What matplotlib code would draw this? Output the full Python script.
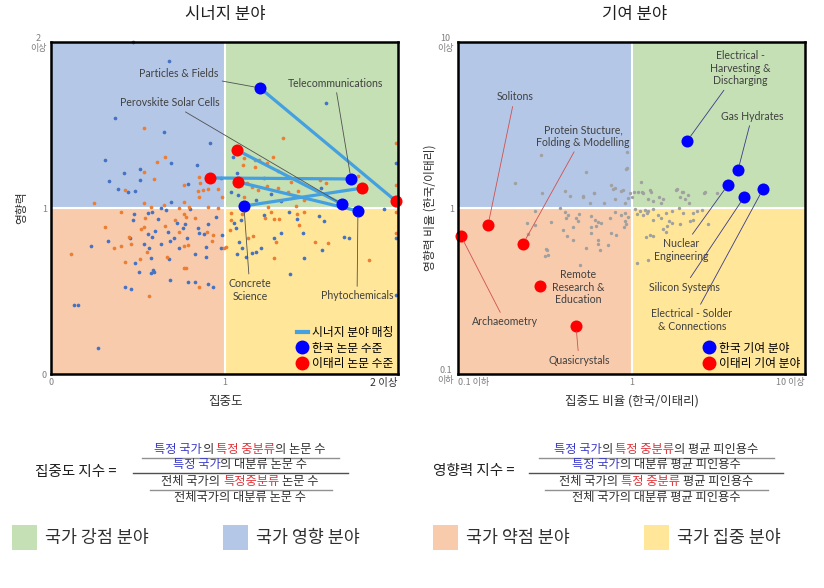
import matplotlib
matplotlib.use('Agg')
import matplotlib.pyplot as plt
from matplotlib.lines import Line2D
from matplotlib.patches import Rectangle
from matplotlib.ticker import NullLocator

plt.rcParams['font.family'] = ['Noto Sans CJK KR', 'DejaVu Sans']

# ------------------------------------------------------------------
# DATA : left panel (시너지 분야) -- concentration (x) vs impact (y)
# ------------------------------------------------------------------
kr_dot_x = [0.473, 0.68, 1.585, 0.371, 0.653, 0.918, 0.311, 0.692, 0.841, 0.423, 0.511, 0.336, 0.515,
            0.384, 0.442, 0.486, 0.788, 0.692, 0.98, 1.048, 1.073, 1.23, 1.035, 1.077, 1.269, 1.557,
            1.323, 1.183, 1.99, 0.231, 0.131, 0.158, 0.269, 0.327, 0.48, 0.471, 0.484, 0.509, 0.427,
            0.461, 0.576, 0.596, 0.586, 0.576, 0.567, 0.534, 0.457, 0.557, 0.58, 0.599, 0.557, 0.58,
            0.615, 0.634, 0.682, 0.686, 0.672, 0.726, 0.707, 0.688, 0.772, 0.759, 0.803, 0.845, 0.855,
            0.74, 0.784, 0.83, 0.893, 0.895, 0.788, 0.832, 0.907, 0.932, 0.907, 0.884, 0.984, 0.953,
            0.98, 0.634, 0.663, 1.054, 1.067, 1.096, 1.086, 1.10, 1.073, 1.125, 1.158, 1.183, 1.211,
            1.227, 1.288, 1.327, 1.38, 1.369, 1.419, 1.451, 1.457, 1.542, 1.573, 1.561, 1.688, 1.715,
            1.922, 1.99, 1.99]
kr_dot_y = [2.0, 1.886, 1.633, 1.54, 1.46, 1.394, 1.287, 1.269, 1.259, 1.213, 1.233, 1.163, 1.169,
            1.112, 1.098, 1.104, 1.144, 1.038, 1.18, 1.31, 1.213, 1.18, 1.098, 1.078, 1.084, 1.118,
            1.044, 1.048, 1.27, 0.773, 0.416, 0.416, 0.159, 0.801, 0.962, 0.928, 0.667, 0.612, 0.526,
            0.512, 0.606, 0.616, 0.626, 0.697, 0.761, 0.781, 0.821, 0.841, 0.825, 0.861, 0.968, 0.974,
            0.934, 0.781, 0.693, 0.566, 0.853, 0.908, 0.817, 0.801, 0.902, 0.878, 0.994, 0.878, 0.847,
            0.761, 0.819, 0.721, 0.767, 0.707, 0.556, 0.556, 0.542, 0.526, 0.902, 0.841, 0.837, 0.948,
            0.757, 1.0, 0.988, 0.908, 0.878, 0.928, 0.793, 0.761, 0.721, 0.707, 0.727, 0.737, 0.761,
            0.958, 0.821, 0.847, 0.6, 0.974, 0.934, 0.847, 0.697, 0.954, 0.922, 0.747, 0.827, 0.817,
            0.994, 0.817, 0.476]

it_dot_x = [0.538, 0.657, 0.611, 0.534, 0.596, 0.427, 0.855, 0.859, 0.768, 0.845, 0.874, 0.903, 0.961,
            0.851, 0.984, 0.768, 0.246, 0.534, 0.576, 0.653, 0.797, 0.903, 0.74, 1.336, 1.111, 1.177,
            1.20, 1.279, 1.246, 1.106, 1.173, 1.307, 1.384, 1.131, 1.158, 1.246, 1.192, 1.307, 1.115,
            1.365, 1.423, 1.548, 1.586, 1.461, 1.413, 1.25, 1.99, 1.99, 1.768, 0.115, 0.313, 0.365,
            0.403, 0.403, 0.427, 0.567, 0.515, 0.553, 0.461, 0.451, 0.519, 0.534, 0.542, 0.657, 0.669,
            0.715, 0.74, 0.765, 0.778, 0.83, 0.792, 0.768, 0.765, 0.778, 0.851, 0.899, 0.936, 0.961,
            0.926, 0.995, 1.038, 1.035, 1.029, 1.10, 1.01, 1.138, 1.163, 1.234, 1.269, 1.284, 1.317,
            1.298, 1.284, 1.419, 1.427, 1.461, 1.523, 1.599, 1.83, 1.99, 1.99]
it_dot_y = [1.48, 1.305, 1.279, 1.219, 1.172, 1.108, 1.184, 1.153, 1.139, 1.104, 1.108, 1.112, 1.112,
            1.065, 1.068, 1.038, 1.028, 1.028, 1.004, 1.018, 1.004, 1.008, 1.0, 1.42, 1.30, 1.29,
            1.29, 1.31, 1.273, 1.259, 1.249, 1.225, 1.159, 1.153, 1.124, 1.132, 1.108, 1.118, 1.068,
            1.098, 1.104, 1.169, 1.148, 1.048, 1.012, 1.008, 1.39, 1.14, 1.19, 0.721, 0.887, 0.757,
            0.773, 0.974, 0.673, 0.472, 0.693, 0.733, 0.781, 0.827, 0.873, 0.887, 0.942, 0.893, 0.707,
            0.928, 0.857, 0.962, 0.948, 0.938, 0.777, 0.773, 0.641, 0.637, 0.526, 0.857, 0.837, 1.002,
            0.801, 0.761, 0.968, 0.928, 0.868, 0.962, 0.767, 0.817, 0.833, 0.938, 0.978, 0.934, 0.934,
            0.797, 0.701, 0.962, 0.898, 0.974, 0.793, 0.789, 0.687, 0.974, 0.847]

# synergy pairs (Korea field  <->  matched Italy field)
syn_names = ['Particles & Fields', 'Telecommunications', 'Perovskite Solar Cells',
             'Phytochemicals', 'Concrete\nScience']
syn_kr_x = [1.205, 1.729, 1.677, 1.769, 1.112]
syn_kr_y = [1.723, 1.175, 1.024, 0.982, 1.012]
syn_it_x = [1.99, 0.916, 1.072, 1.078, 1.793]
syn_it_y = [1.04, 1.181, 1.349, 1.157, 1.120]

# ------------------------------------------------------------------
# DATA : right panel (기여 분야) -- ratio Korea/Italy (log axes)
# ------------------------------------------------------------------
gray_x = [0.299, 0.942, 0.547, 0.214, 0.942, 1.135, 0.762, 0.807, 0.305, 0.412, 0.605, 1.033, 1.089,
          1.148, 1.294, 1.828, 1.954, 2.655, 0.525, 0.871, 0.441, 0.525, 0.608, 0.782, 0.893, 0.933,
          0.977, 0.955, 1.0, 0.912, 0.574, 0.695, 0.8, 0.385, 0.279, 0.412, 0.431, 0.421, 0.50, 0.481,
          0.492, 0.345, 0.249, 0.277, 0.586, 0.614, 0.641, 0.664, 0.627, 0.586, 0.748, 0.8, 0.873,
          0.914, 0.955, 0.914, 0.906, 0.933, 0.46, 0.403, 0.253, 0.427, 0.46, 0.586, 0.641, 0.641,
          0.656, 0.733, 0.766, 0.818, 0.545, 0.323, 0.33, 0.318, 0.502, 1.159, 1.25, 1.324, 1.445,
          1.514, 1.472, 1.279, 1.807, 1.905, 1.991, 2.128, 2.032, 2.153, 2.618, 3.097, 1.047, 1.119,
          1.197, 1.25, 1.337, 1.072, 1.159, 1.225, 1.429, 1.472, 1.581, 1.706, 1.888, 1.991, 2.27,
          2.377, 2.535, 1.652, 1.706, 1.596, 1.905, 1.528, 1.581, 1.337, 2.173, 2.27, 2.773, 1.279,
          1.337, 1.213, 1.072, 1.25, 0.326]
gray_y = [2.084, 2.183, 1.656, 1.419, 1.742, 1.439, 1.377, 1.315, 1.236, 1.27, 1.236, 1.253, 1.253,
          1.253, 1.253, 1.3, 1.253, 1.253, 1.169, 1.27, 1.186, 1.186, 1.236, 1.294, 1.282, 1.71,
          1.225, 1.143, 1.169, 1.067, 1.067, 1.067, 1.127, 0.995, 0.959, 0.951, 0.908, 0.867, 0.92,
          0.867, 0.839, 0.828, 0.817, 0.794, 0.895, 0.847, 0.828, 0.817, 0.78, 0.766, 0.867, 0.951,
          0.908, 0.929, 0.887, 0.839, 0.766, 0.802, 0.766, 0.738, 0.698, 0.679, 0.641, 0.705, 0.641,
          0.607, 0.558, 0.598, 0.705, 0.689, 0.571, 0.564, 0.521, 0.514, 0.454, 1.225, 1.127, 1.107,
          1.169, 1.127, 1.076, 1.282, 1.282, 1.169, 1.253, 1.197, 1.127, 1.076, 1.236, 1.236, 0.982,
          0.959, 0.973, 0.959, 0.982, 0.916, 0.904, 0.929, 0.904, 0.875, 0.938, 0.959, 1.005, 0.938,
          0.938, 0.959, 0.973, 0.839, 0.809, 0.78, 0.802, 0.745, 0.721, 0.847, 0.839, 0.847, 0.802,
          0.687, 0.678, 0.665, 0.465, 0.486, 0.558]

con_kr_names = ['Electrical -\nHarvesting &\nDischarging', 'Gas Hydrates', 'Nuclear\nEngineering',
                'Silicon Systems', 'Electrical - Solder\n& Connections']
con_kr_x = [2.09, 4.11, 3.6, 4.45, 5.73]
con_kr_y = [2.53, 1.69, 1.38, 1.16, 1.30]
con_it_names = ['Solitons', 'Protein Stucture,\nFolding & Modelling', 'Archaeometry',
                'Remote\nResearch &\nEducation', 'Quasicrystals']
con_it_x = [0.149, 0.237, 0.104, 0.297, 0.479]
con_it_y = [0.79, 0.607, 0.678, 0.339, 0.194]

left_xticks = [0, 1, 2]
left_xticklabels = ['0', '1', '2 이상']
left_yticklabels = ['0', '1', '2\n이상']
right_ticks = [0.1, 1, 10]
right_xticklabels = ['0.1 이하', '1', '10 이상']
right_yticklabels = ['0.1\n이하', '1', '10\n이상']

# ------------------------------------------------------------------
W, H = 824, 588
fig = plt.figure(figsize=(W / 100, H / 100), dpi=100)
fig.patch.set_facecolor('white')


def fx(x):
    return x / W


def fy(y):
    return 1 - y / H


C_GREEN, C_BLUE, C_PEACH, C_YELLOW = '#c5e0b4', '#b4c7e7', '#f8cbad', '#ffe699'
EN = ['Lato', 'DejaVu Sans']
ANN_FS = 7.6

axL = fig.add_axes([fx(51), fy(374), (398 - 51) / W, (374 - 42) / H])
axR = fig.add_axes([fx(458), fy(374), (805 - 458) / W, (374 - 42) / H])
axR.set_xscale('log')
axR.set_yscale('log')


def quadrants(ax, lo, mid, hi):
    ax.add_patch(Rectangle((lo, lo), mid - lo, mid - lo, color=C_PEACH, zorder=0, lw=0))
    ax.add_patch(Rectangle((mid, lo), hi - mid, mid - lo, color=C_YELLOW, zorder=0, lw=0))
    ax.add_patch(Rectangle((lo, mid), mid - lo, hi - mid, color=C_BLUE, zorder=0, lw=0))
    ax.add_patch(Rectangle((mid, mid), hi - mid, hi - mid, color=C_GREEN, zorder=0, lw=0))
    ax.axvline(mid, color='white', lw=1.5, zorder=1)
    ax.axhline(mid, color='white', lw=1.5, zorder=1)
    ax.set_xlim(lo, hi)
    ax.set_ylim(lo, hi)
    for s in ax.spines.values():
        s.set_linewidth(1.8)
        s.set_color('black')
        s.set_zorder(10)
    ax.tick_params(length=0, labelsize=6.5, labelcolor='#7f7f7f', pad=3)


quadrants(axL, 0, 1, 2)
quadrants(axR, 0.1, 1, 10)

# ---- left panel ----
axL.set_xticks(left_xticks)
axL.set_xticklabels(left_xticklabels)
axL.set_yticks(left_xticks)
axL.set_yticklabels(left_yticklabels)
for lbl in axL.get_yticklabels():
    lbl.set_multialignment('center')
xl = axL.get_xticklabels()
xl[-1].set_ha('right')
xl[-1].set_color('#303030')
xl[-1].set_fontsize(7.5)

axL.scatter(kr_dot_x, kr_dot_y, s=7, color='#4472c4', lw=0, zorder=3, clip_on=False)
axL.scatter(it_dot_x, it_dot_y, s=7, color='#ed7d31', lw=0, zorder=3, clip_on=False)
LINE_C = '#45a0e0'
for i in range(len(syn_kr_x)):
    axL.plot([syn_kr_x[i], syn_it_x[i]], [syn_kr_y[i], syn_it_y[i]], color=LINE_C, lw=2.3,
             zorder=4, solid_capstyle='round')
axL.scatter(syn_kr_x, syn_kr_y, s=75, color='#0000ff', lw=0, zorder=6, clip_on=False)
axL.scatter(syn_it_x, syn_it_y, s=75, color='#ff0000', lw=0, zorder=6, clip_on=False)

left_text_pos = [(0.963, 1.813, 'right'), (1.637, 1.753, 'center'), (0.974, 1.633, 'right'),
                 (1.764, 0.47, 'center'), (1.147, 0.506, 'center')]
for i, (tx, ty, ha) in enumerate(left_text_pos):
    axL.annotate(syn_names[i], xy=(syn_kr_x[i], syn_kr_y[i]), xytext=(tx, ty),
                 ha=ha, va='center', fontsize=ANN_FS, color='#404040', family=EN,
                 multialignment='center', zorder=7,
                 arrowprops=dict(arrowstyle='-', color='#505050', lw=0.6, shrinkA=1, shrinkB=4))

handles = [Line2D([], [], color=LINE_C, lw=3),
           Line2D([], [], marker='o', ls='', color='#0000ff', ms=9),
           Line2D([], [], marker='o', ls='', color='#ff0000', ms=9)]
axL.legend(handles, ['시너지 분야 매칭', '한국 논문 수준', '이태리 논문 수준'], loc='lower right',
           frameon=False, fontsize=8.5, handlelength=0.9, handletextpad=0.4, labelspacing=0.2,
           borderaxespad=0.15, borderpad=0.2)

# ---- right panel ----
axR.set_xticks(right_ticks)
axR.set_xticklabels(right_xticklabels)
axR.set_yticks(right_ticks)
axR.set_yticklabels(right_yticklabels)
axR.xaxis.set_minor_locator(NullLocator())
axR.yaxis.set_minor_locator(NullLocator())
for lbl in axR.get_yticklabels():
    lbl.set_multialignment('center')
rxl = axR.get_xticklabels()
rxl[0].set_ha('left')
rxl[-1].set_ha('right')
axR.set_xlim(0.1, 10)
axR.set_ylim(0.1, 10)

axR.scatter(gray_x, gray_y, s=6, color='#a0a0a0', lw=0, zorder=3)
axR.scatter(con_kr_x, con_kr_y, s=75, color='#0000ff', lw=0, zorder=6, clip_on=False)
axR.scatter(con_it_x, con_it_y, s=75, color='#ff0000', lw=0, zorder=6, clip_on=False)

kr_text_pos = [(4.22, 6.97), (4.95, 3.58), (1.93, 0.558), (2.01, 0.334), (2.23, 0.211)]
it_text_pos = [(0.166, 4.67, 'left'), (0.525, 2.72, 'center'), (0.187, 0.206, 'center'),
               (0.492, 0.334, 'center'), (0.498, 0.121, 'center')]
for i, (tx, ty) in enumerate(kr_text_pos):
    axR.annotate(con_kr_names[i], xy=(con_kr_x[i], con_kr_y[i]), xytext=(tx, ty),
                 ha='center', va='center', fontsize=ANN_FS, color='#404040', family=EN,
                 multialignment='center', zorder=7,
                 arrowprops=dict(arrowstyle='-', color='#3a3a8a', lw=0.6, shrinkA=1, shrinkB=4))
for i, (tx, ty, ha) in enumerate(it_text_pos):
    ap = None if i == 3 else dict(arrowstyle='-', color='#d05050', lw=0.6, shrinkA=1, shrinkB=4)
    axR.annotate(con_it_names[i], xy=(con_it_x[i], con_it_y[i]), xytext=(tx, ty),
                 ha=ha, va='center', fontsize=ANN_FS, color='#404040', family=EN,
                 multialignment='center', zorder=7, arrowprops=ap)

handlesR = [Line2D([], [], marker='o', ls='', color='#0000ff', ms=9),
            Line2D([], [], marker='o', ls='', color='#ff0000', ms=9)]
axR.legend(handlesR, ['한국 기여 분야', '이태리 기여 분야'], loc='lower right', frameon=False,
           fontsize=8.5, handlelength=0.9, handletextpad=0.4, labelspacing=0.2,
           borderaxespad=0.15, borderpad=0.2)

# ---- titles and axis labels ----
fig.text(fx(225), fy(14), '시너지 분야', ha='center', va='center', fontsize=12, color='#202020')
fig.text(fx(635), fy(14), '기여 분야', ha='center', va='center', fontsize=12, color='#202020')
fig.text(fx(225), fy(401), '집중도', ha='center', va='center', fontsize=9, color='#303030')
fig.text(fx(632), fy(401), '집중도 비율 (한국/이태리)', ha='center', va='center', fontsize=9,
         color='#303030')
fig.text(fx(22), fy(208), '영향력', ha='center', va='center', fontsize=8.5, rotation=90,
         color='#303030')
fig.text(fx(430), fy(208), '영향력 비율 (한국/이태리)', ha='center', va='center', fontsize=8.5,
         rotation=90, color='#303030')

# ---- formulas ----
renderer = fig.canvas.get_renderer()


def box_width(s, size):
    t = fig.text(0, 0, s, fontsize=size)
    w = t.get_window_extent(renderer).width
    t.remove()
    return w


def rich_line(segs, cx, cy, size):
    sp = box_width('가 가', size) - box_width('가가', size)
    placed = []
    cursor = 0.0
    for s, c in segs:
        core = s.strip(' ')
        lead = len(s) - len(s.lstrip(' '))
        trail = len(s) - len(s.rstrip(' '))
        cursor += lead * sp
        t = fig.text(0, fy(cy), core, color=c, fontsize=size, ha='left', va='baseline')
        w = t.get_window_extent(renderer).width
        placed.append((t, cursor))
        cursor += w + trail * sp
    x0 = cx - cursor / 2
    for t, off in placed:
        t.set_x(fx(x0 + off))


BLU, RED, BLK = '#3a3ac8', '#e0343a', '#303030'
FS = 8.8


def hline(x0, x1, y, c='#808080', lw=1.0):
    fig.add_artist(Line2D([fx(x0), fx(x1)], [fy(y), fy(y)], color=c, lw=lw))


# left formula
fig.text(fx(35), fy(472), '집중도 지수 =', ha='left', va='center', fontsize=10.5, color='#202020')
rich_line([('특정 국가', BLU), ('의 ', BLK), ('특정 중분류', RED), ('의 논문 수', BLK)], 240, 453, FS)
hline(142, 339, 457.5, '#909090')
rich_line([('특정 국가', BLU), ('의 대분류 논문 수', BLK)], 240, 468, FS)
hline(133, 348, 473, '#505050')
rich_line([('전체 국가의 ', BLK), ('특정중분류', RED), (' 논문 수', BLK)], 240, 485, FS)
hline(150, 332, 490, '#909090')
rich_line([('전체국가의 대분류 논문 수', BLK)], 240, 501, FS)

# right formula
fig.text(fx(433), fy(471), '영향력 지수 =', ha='left', va='center', fontsize=10.5, color='#202020')
rich_line([('특정 국가', BLU), ('의 ', BLK), ('특정 중분류', RED), ('의 평균 피인용수', BLK)], 656, 453, FS)
hline(539, 774, 457.5, '#909090')
rich_line([('특정 국가', BLU), ('의 대분류 평균 피인용수', BLK)], 656, 468, FS)
hline(529, 783, 473, '#505050')
rich_line([('전체 국가의 ', BLK), ('특정 중분류', RED), (' 평균 피인용수', BLK)], 656, 485, FS)
hline(545, 768, 490, '#909090')
rich_line([('전체 국가의 대분류 평균 피인용수', BLK)], 656, 501, FS)

# ---- quadrant legend ----
quad_items = [(12, C_GREEN, '국가 강점 분야'), (223, C_BLUE, '국가 영향 분야'),
              (433, C_PEACH, '국가 약점 분야'), (644, C_YELLOW, '국가 집중 분야')]
for x, c, lab in quad_items:
    fig.add_artist(Rectangle((fx(x), fy(550)), 25 / W, 25 / H, transform=fig.transFigure,
                             color=c, lw=0))
    fig.text(fx(x + 33), fy(537.5), lab, ha='left', va='center', fontsize=12.5, color='#303030')

fig.savefig('out.png', dpi=100, facecolor='white')
